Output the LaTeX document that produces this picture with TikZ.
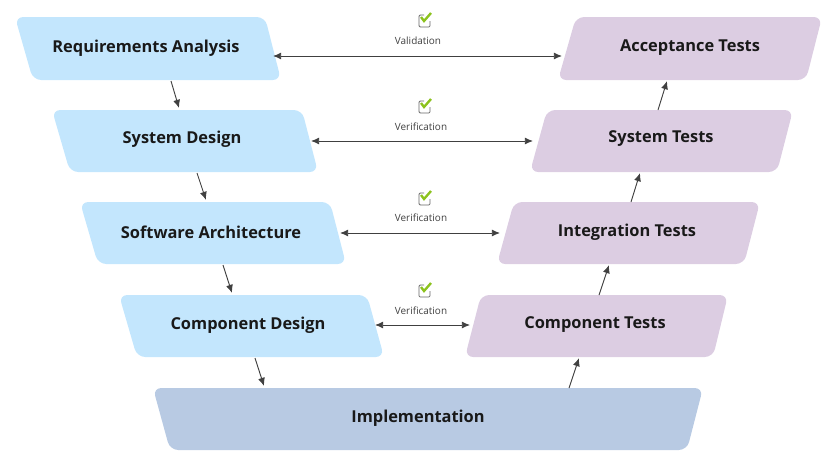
\documentclass[tikz,border=0pt]{standalone}
\usepackage{fontspec}
\setmainfont{Open Sans}
\usetikzlibrary{arrows.meta,positioning}
\definecolor{designblue}{HTML}{C3E6FD}
\definecolor{testpurple}{HTML}{DCCDE2}
\definecolor{implblue}{HTML}{B8CAE3}
\definecolor{arrowgray}{HTML}{404040}
\definecolor{checkgreen}{HTML}{8CC21E}
\tikzset{
    design/.style={fill=designblue, draw=none, rounded corners=7pt},
    test/.style={fill=testpurple, draw=none, rounded corners=7pt},
    impl/.style={fill=implblue, draw=none, rounded corners=7pt},
    phase/.style={font=\fontsize{14}{17}\selectfont\bfseries, text=black!90},
    flow/.style={draw=arrowgray, line width=0.8pt, -{Latex[length=7pt,width=6pt]}},
    check/.style={draw=arrowgray, line width=0.8pt, {Latex[length=7pt,width=6pt]}-{Latex[length=7pt,width=6pt]}},
    vlabel/.style={font=\fontsize{8.5}{10}\selectfont, text=black!75},
}
\begin{document}
\begin{tikzpicture}[x=0.03cm,y=-0.03cm]
	\useasboundingbox (0,0) rectangle (837,466);
	% left side
	\fill[design] (15,17)--(265,17)--(281,80)--(33,80)--cycle;
	\fill[design] (52,110)--(302,110)--(318,172)--(70,172)--cycle;
	\fill[design] (80,202)--(330,202)--(346,264)--(98,264)--cycle;
	\fill[design] (119,295)--(367,295)--(384,357)--(137,357)--cycle;
	% bottom
	\fill[impl] (153,388)--(703,388)--(687,450)--(170,450)--cycle;
	% right side
	\fill[test] (481,295)--(728,295)--(713,357)--(465,357)--cycle;
	\fill[test] (514,202)--(760,202)--(744,264)--(497,264)--cycle;
	\fill[test] (547,110)--(793,110)--(777,172)--(530,172)--cycle;
	\fill[test] (576,17)--(822,17)--(806,80)--(558,80)--cycle;
	% texts
	\node[phase] (req) at (146,48) {Requirements Analysis};
	\node[phase] (sysd) at (182,139) {System Design};
	\node[phase] (arch) at (211,232) {Software Architecture};
	\node[phase] (comp) at (248,325) {Component Design};
	\node[phase] (impl) at (418,418) {Implementation};
	\node[phase] (compt) at (595,325) {Component Tests};
	\node[phase] (intt) at (627,232) {Integration Tests};
	\node[phase] (syst) at (661,139) {System Tests};
	\node[phase] (acc) at (690,48) {Acceptance Tests};
	% connector ends
	\coordinate (req-s) at (171,81);   \coordinate (sysd-n) at (179,108);
	\coordinate (sysd-s) at (197,173); \coordinate (arch-n) at (206,200);
	\coordinate (arch-s) at (223,265); \coordinate (comp-n) at (232,293);
	\coordinate (comp-s) at (255,358); \coordinate (impl-n) at (264,386);
	\coordinate (impl-e) at (569,388); \coordinate (compt-s) at (579,358);
	\coordinate (compt-n) at (599,295);\coordinate (intt-s) at (609,265);
	\coordinate (intt-n) at (631,202); \coordinate (syst-s) at (640,173);
	\coordinate (syst-n) at (658,110); \coordinate (acc-s) at (667,81);
	\draw[flow] (req-s)--(sysd-n);
	\draw[flow] (sysd-s)--(arch-n);
	\draw[flow] (arch-s)--(comp-n);
	\draw[flow] (comp-s)--(impl-n);
	\draw[flow] (impl-e)--(compt-s);
	\draw[flow] (compt-n)--(intt-s);
	\draw[flow] (intt-n)--(syst-s);
	\draw[flow] (syst-n)--(acc-s);
	% validation / verification
	\coordinate (req-e) at (273,56);   \coordinate (acc-w) at (562,56);
	\coordinate (sysd-e) at (311,141); \coordinate (syst-w) at (533,141);
	\coordinate (arch-e) at (340,233); \coordinate (intt-w) at (500,233);
	\coordinate (comp-e) at (375,325); \coordinate (compt-w) at (470,325);
	\draw[check] (req-e)--(acc-w);
	\draw[check] (sysd-e)--(syst-w);
	\draw[check] (arch-e)--(intt-w);
	\draw[check] (comp-e)--(compt-w);
	\node[vlabel] (val) at (418,41) {Validation};
	\node[vlabel] (ver1) at (421,127) {Verification};
	\node[vlabel] (ver2) at (421,218) {Verification};
	\node[vlabel] (ver3) at (421,311) {Verification};
	\foreach \y in {21,107,199,291} {
		\draw[arrowgray!80, line width=0.7pt, rounded corners=1pt]
			(424,\y-6) -- (419,\y-6) -- (419,\y+6) -- (430,\y+6) -- (430,\y);
		\draw[checkgreen, line width=2pt] (421,\y-4) -- (424,\y) -- (431,\y-8);
	}
\end{tikzpicture}
\end{document}
